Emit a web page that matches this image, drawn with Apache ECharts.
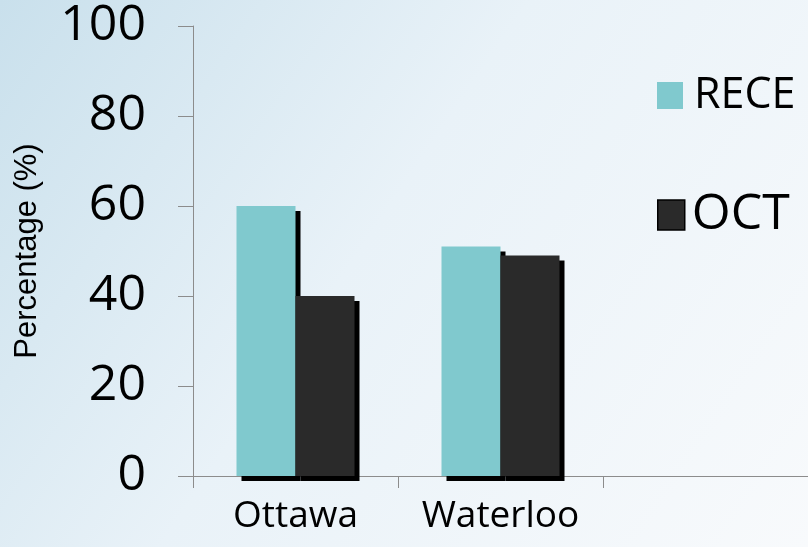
<!DOCTYPE html>
<html>
<head>
<meta charset="utf-8">
<script src="https://cdn.jsdelivr.net/npm/echarts@6/dist/echarts.min.js"></script>
<style>
html,body{margin:0;padding:0;}
#c{width:808px;height:547px;}
</style>
</head>
<body>
<div id="c"></div>
<script>
var categories = ['Ottawa', 'Waterloo', ''];
var receValues = [60, 51, null];
var octValues = [40, 49, null];
var yTicks = [0, 20, 40, 60, 80, 100];

var chart = echarts.init(document.getElementById('c'), null, {renderer: 'canvas'});
var font = 'Open Sans';
var shadow = {shadowColor: '#000', shadowBlur: 0, shadowOffsetX: 5, shadowOffsetY: 5};

chart.setOption({
  animation: false,
  backgroundColor: {
    type: 'linear', x: 0, y: 0, x2: 1, y2: 1,
    colorStops: [
      {offset: 0, color: '#c9e0ec'},
      {offset: 0.45, color: '#e9f2f8'},
      {offset: 1, color: '#f8fafc'}
    ]
  },
  grid: {left: 193, top: 26, right: -3, bottom: 71, containLabel: false},
  legend: [
    {
      data: ['RECE'], left: 657, top: 74, padding: 0, itemWidth: 26, itemHeight: 27,
      icon: 'rect',
      textStyle: {fontFamily: font, fontSize: 43, color: '#000', padding: [0, 0, 0, 6]}
    },
    {
      data: ['OCT'], left: 657, top: 190, padding: 0, itemWidth: 27, itemHeight: 30,
      icon: 'rect',
      itemStyle: {borderColor: '#000', borderWidth: 1.5},
      textStyle: {fontFamily: font, fontSize: 50, color: '#000', padding: [0, 0, 0, 2]}
    }
  ],
  xAxis: {
    type: 'category',
    data: categories,
    axisLine: {lineStyle: {color: '#8c8c8c', width: 1}},
    axisTick: {show: true, length: 12, lineStyle: {color: '#8c8c8c'}},
    axisLabel: {fontFamily: font, fontSize: 37, color: '#000', margin: 22, interval: 0}
  },
  yAxis: {
    type: 'value',
    min: yTicks[0], max: yTicks[yTicks.length - 1], interval: 20,
    name: 'Percentage (%)',
    nameLocation: 'middle',
    nameGap: 150,
    nameRotate: 90,
    nameTextStyle: {fontFamily: 'Liberation Sans', fontSize: 31, color: '#000'},
    axisLine: {show: true, lineStyle: {color: '#8c8c8c', width: 1}},
    axisTick: {show: true, length: 15, lineStyle: {color: '#8c8c8c'}},
    splitLine: {show: false},
    axisLabel: {fontFamily: font, fontSize: 50, color: '#000', margin: 47}
  },
  series: [
    {
      name: 'RECE', type: 'bar', data: receValues, barWidth: 59, barGap: '0%',
      itemStyle: Object.assign({color: '#80c9ce'}, shadow)
    },
    {
      name: 'OCT', type: 'bar', data: octValues, barWidth: 59, barGap: '0%',
      itemStyle: Object.assign({color: '#2a2a2a'}, shadow)
    }
  ]
});
</script>
</body>
</html>
